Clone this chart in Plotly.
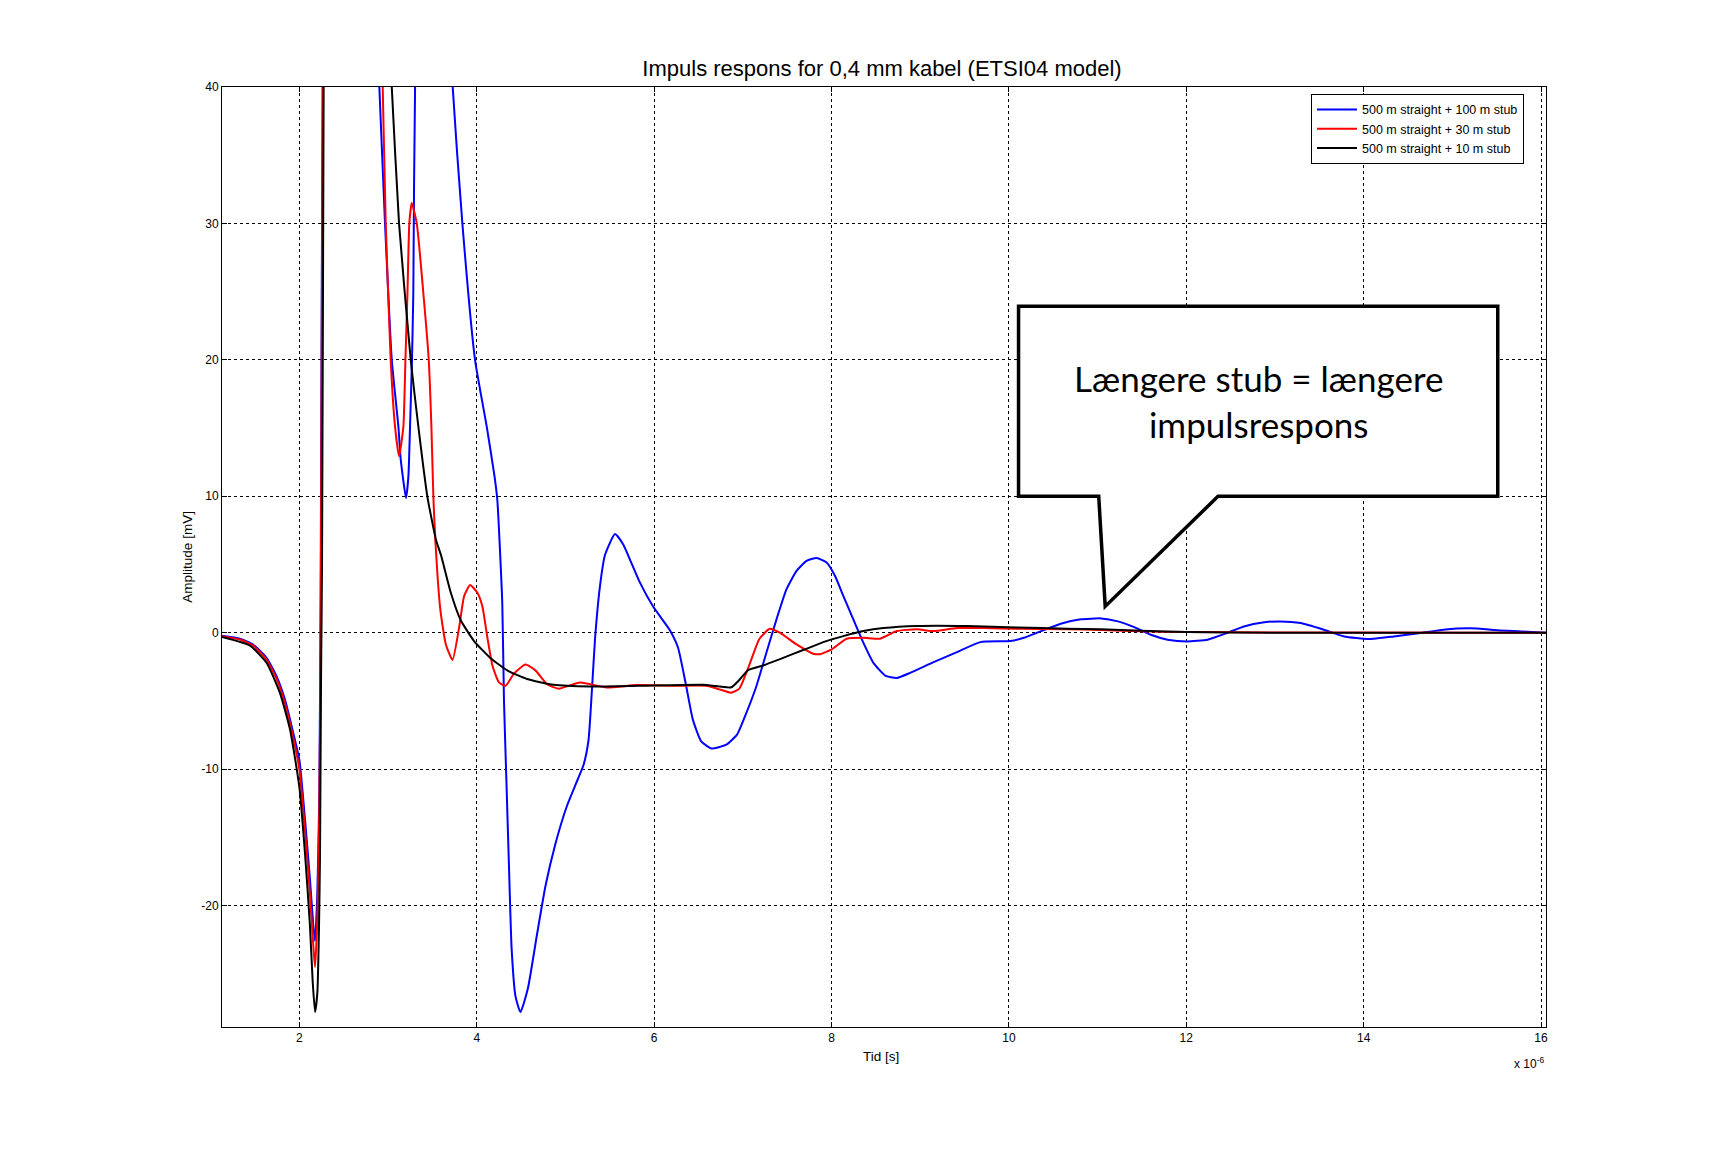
import plotly.graph_objects as go

# ---- data (time in units of 1e-6 s, amplitude in mV) ----
t_blue = [1.128, 1.331, 1.481, 1.632, 1.744, 1.838, 1.914, 2.0, 2.064, 2.12, 2.158, 2.177, 2.203, 2.225, 2.24,
          2.27, 2.5, 2.85, 2.902, 2.966, 3.042, 3.117, 3.143, 3.203, 3.23, 3.248, 3.27, 3.285, 3.305, 3.5,
          3.729, 3.838, 3.981, 4.113, 4.2, 4.232, 4.288, 4.307, 4.333, 4.363, 4.393, 4.437, 4.493, 4.576,
          4.68, 4.774, 4.886, 5.017, 5.11, 5.204, 5.26, 5.297, 5.335, 5.39, 5.447, 5.559, 5.652, 5.746,
          5.839, 5.989, 6.176, 6.27, 6.362, 6.437, 6.531, 6.645, 6.814, 6.935, 7.04, 7.153, 7.266, 7.38,
          7.493, 7.606, 7.719, 7.832, 7.945, 8.039, 8.133, 8.246, 8.36, 8.473, 8.605, 8.737, 8.887, 9.151,
          9.415, 9.679, 10.018, 10.169, 10.357, 10.584, 10.81, 11.04, 11.23, 11.42, 11.60, 11.79, 12.01,
          12.24, 12.46, 12.65, 12.88, 13.06, 13.29, 13.55, 13.78, 14.06, 14.34, 14.64, 14.90, 15.20, 15.54,
          15.85, 16.056]
a_blue = [-0.22, -0.44, -0.88, -1.86, -3.2, -4.9, -6.87, -9.3, -13.7, -18.1, -21.5, -22.6, -19.1, -11.8, 2.7,
          48, 160, 48, 40, 30, 20, 15.1, 12.7, 9.88, 11.5, 15.1, 20, 24.9, 40, 75,
          40, 30, 20, 15.1, 11.5, 9.76, 2.17, -4.9, -10.5, -17.0, -23.1, -26.65, -27.8, -26.1,
          -22.1, -18.6, -15.5, -12.7, -11.2, -9.7, -7.9, -4.4, -0.35, 3.44, 5.71, 7.23, 6.47, 5.08,
          3.69, 1.92, 0.2, -1.1, -3.92, -6.37, -7.96, -8.48, -8.21, -7.47, -5.88, -3.92, -1.47, 0.98,
          3.19, 4.53, 5.27, 5.47, 5.15, 4.17, 2.7, 0.98, -0.74, -2.21, -3.14, -3.31, -2.94, -2.16,
          -1.42, -0.69, -0.61, -0.37, 0.1, 0.66, 0.98, 1.05, 0.83, 0.39, -0.15, -0.51, -0.64,
          -0.51, -0.02, 0.46, 0.76, 0.83, 0.71, 0.22, -0.27, -0.46, -0.27, -0.02, 0.22, 0.32, 0.17,
          0.07, 0.0]

t_red = [1.128, 1.331, 1.481, 1.632, 1.744, 1.838, 1.914, 2.0, 2.064, 2.12, 2.158, 2.177, 2.203, 2.225, 2.24,
         2.262, 2.27, 2.5, 2.91, 2.94, 2.974, 3.03, 3.079, 3.124, 3.173, 3.196, 3.219, 3.24, 3.267, 3.324,
         3.398, 3.459, 3.489, 3.511, 3.533, 3.59, 3.652, 3.727, 3.802, 3.858, 3.925, 4.007, 4.064, 4.12,
         4.176, 4.25, 4.325, 4.419, 4.55, 4.662, 4.793, 4.924, 5.166, 5.465, 5.802, 6.213, 6.587, 6.736,
         6.867, 6.961, 7.073, 7.185, 7.304, 7.417, 7.606, 7.794, 7.87, 8.002, 8.171, 8.36, 8.548, 8.737,
         8.963, 9.151, 9.415, 9.717, 10.093, 10.659, 11.036, 11.5, 12.0, 13.0, 16.056]
a_red = [-0.25, -0.5, -0.95, -2.0, -3.4, -5.2, -7.2, -10.0, -14.5, -19.2, -23.0, -24.5, -21.0, -13.0, -1.0,
         38, 48, 150, 49, 40, 30, 20, 15.1, 12.93, 15.1, 20, 24.9, 30, 31.5, 30,
         24.9, 20, 15.1, 10, 6.8, 1.67, -0.86, -2.0, 0.4, 2.68, 3.49, 2.93, 1.92, -0.35,
         -2.38, -3.64, -3.89, -3.0, -2.33, -2.76, -3.77, -4.1, -3.64, -4.02, -3.84, -3.89, -3.89, -4.15,
         -4.4, -4.1, -2.38, -0.48, 0.29, 0.0, -0.86, -1.54, -1.57, -1.22, -0.44, -0.37, -0.44, 0.12,
         0.25, 0.12, 0.34, 0.34, 0.29, 0.25, 0.2, 0.1, 0.05, 0.02, 0.0]

t_black = [1.128, 1.444, 1.632, 1.782, 1.895, 2.0, 2.064, 2.12, 2.15, 2.177, 2.203, 2.222, 2.233, 2.244, 2.256,
           2.274, 2.285, 2.6, 2.98, 3.042, 3.124, 3.256, 3.342, 3.443, 3.541, 3.596, 3.708, 3.82, 3.97,
           4.157, 4.344, 4.568, 4.868, 5.279, 5.839, 6.55, 6.736, 6.871, 6.965, 7.059, 7.229, 7.455, 7.681,
           7.907, 8.133, 8.36, 8.586, 8.963, 9.528, 10.093, 10.659, 11.036, 11.5, 12.0, 13.0, 16.056]
a_black = [-0.32, -0.95, -2.22, -4.43, -7.1, -11.3, -16.2, -21.5, -25.5, -27.8, -26.4, -21.5, -16.2, -3.9, 5.4,
           40, 55, 180, 48, 40, 30, 20, 15.1, 10, 6.8, 5.71, 2.93, 0.91, -0.61,
           -1.87, -2.76, -3.39, -3.82, -3.94, -3.89, -3.82, -3.94, -4.0, -3.43, -2.75, -2.4, -1.84, -1.27,
           -0.69, -0.25, 0.12, 0.34, 0.49, 0.49, 0.39, 0.29, 0.25, 0.15, 0.05, 0.0, 0.0]

series_names = ["500 m straight + 100 m stub", "500 m straight + 30 m stub", "500 m straight + 10 m stub"]
series_colors = ["#0000FF", "#FF0000", "#000000"]

x_ticks = [2, 4, 6, 8, 10, 12, 14, 16]
y_ticks = [-20, -10, 0, 10, 20, 30, 40]

title_text = "Impuls respons for 0,4 mm kabel (ETSI04 model)"
callout_text = "Længere stub = længere<br>impulsrespons"

FONT = "Arial, Liberation Sans, sans-serif"

fig = go.Figure()
for t, a, name, col in zip([t_blue, t_red, t_black], [a_blue, a_red, a_black], series_names, series_colors):
    fig.add_trace(go.Scatter(x=t, y=a, mode="lines", name=name,
                             line=dict(color=col, width=2, shape="spline", smoothing=0.5)))

# callout box (speech bubble) in data coordinates
bx0, bx1, by0, by1 = 10.109, 15.512, 10.0, 23.93
tail_l, tail_r, tip_x, tip_y = 11.013, 12.358, 11.086, 1.93
path = (f"M {bx0} {by1} L {bx1} {by1} L {bx1} {by0} L {tail_r} {by0} "
        f"L {tip_x} {tip_y} L {tail_l} {by0} L {bx0} {by0} Z")
fig.add_shape(type="path", path=path, xref="x", yref="y",
              line=dict(color="black", width=3.5), fillcolor="white", layer="above")

fig.add_annotation(x=(bx0 + bx1) / 2, y=16.95, xref="x", yref="y", text=callout_text,
                   showarrow=False, xanchor="center", yanchor="middle",
                   font=dict(family="Lato, Open Sans, sans-serif", size=35, color="black"),
                   align="center")

# axis labels
fig.add_annotation(x=-0.0267, y=0.5, xref="paper", yref="paper", text="Amplitude [mV]",
                   textangle=-90, showarrow=False, xanchor="center", yanchor="middle",
                   font=dict(family=FONT, size=13.5, color="black"))
fig.add_annotation(x=0.498, y=-0.031, xref="paper", yref="paper", text="Tid [s]",
                   showarrow=False, xanchor="center", yanchor="middle",
                   font=dict(family=FONT, size=13.5, color="black"))
fig.add_annotation(x=1.0, y=-0.038, xref="paper", yref="paper", xanchor="right", yanchor="middle",
                   text="x 10<sup>-6</sup>", showarrow=False,
                   font=dict(family=FONT, size=12, color="black"))

axis_common = dict(showline=True, linecolor="black", linewidth=1, mirror="ticks",
                   ticks="inside", ticklen=5, tickcolor="black",
                   showgrid=True, gridcolor="black", gridwidth=1, griddash="3px,3px",
                   zeroline=False, tickfont=dict(family=FONT, size=12, color="black"))

fig.update_layout(
    width=1709, height=1155,
    paper_bgcolor="white", plot_bgcolor="white",
    margin=dict(l=214, r=171, t=79, b=136),
    title=dict(text=title_text, xref="paper", x=0.4985, xanchor="center",
               y=1 - 60 / 1155, yanchor="middle",
               font=dict(family=FONT, size=22, color="black")),
    xaxis=dict(range=[1.128, 16.056], tickvals=x_ticks, ticktext=[str(v) for v in x_ticks], **axis_common),
    yaxis=dict(range=[-28.9, 40], tickvals=y_ticks, ticktext=[str(v) for v in y_ticks], **axis_common),
    legend=dict(x=0.8225, y=0.9926, xanchor="left", yanchor="top",
                bgcolor="white", bordercolor="black", borderwidth=1,
                font=dict(family=FONT, size=12.5, color="black"),
                itemwidth=40, tracegroupgap=0),
    showlegend=True,
)

fig.write_html("out.html")
